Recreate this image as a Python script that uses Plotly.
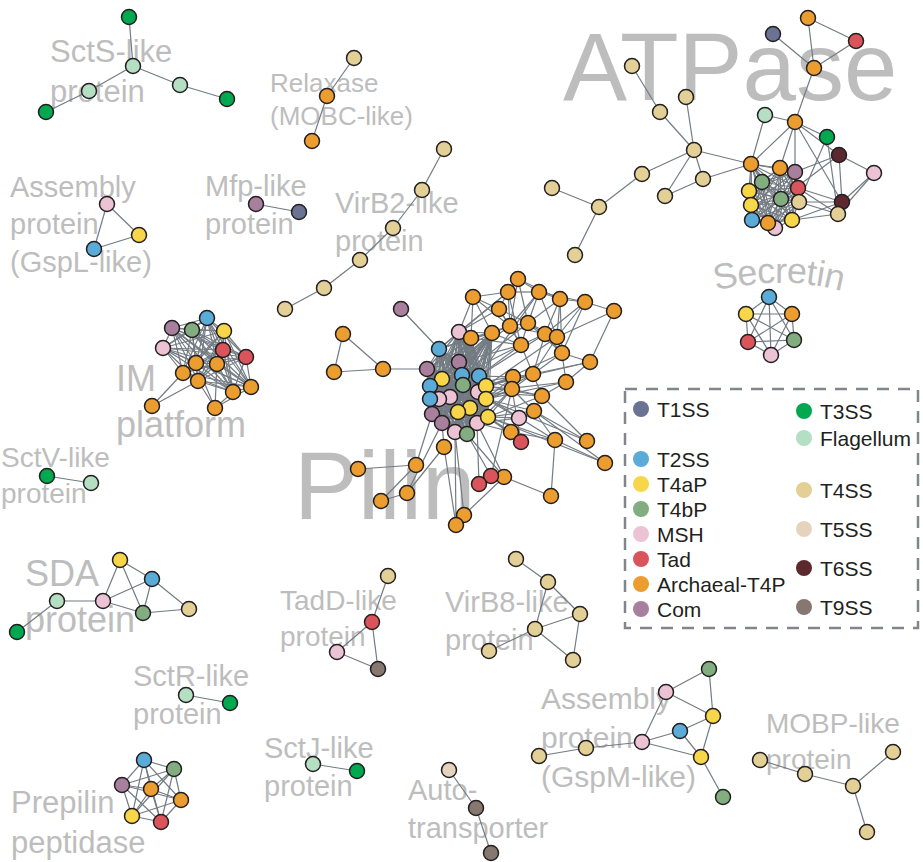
import itertools
import math
import plotly.graph_objects as go

# ---------------- legend / type definitions ----------------
type_codes = ["T1", "T2", "4a", "4b", "MS", "Td", "AR", "Cm", "T3", "Fl", "T4", "T5", "T6", "T9"]
type_labels = ["T1SS", "T2SS", "T4aP", "T4bP", "MSH", "Tad", "Archaeal-T4P", "Com",
               "T3SS", "Flagellum", "T4SS", "T5SS", "T6SS", "T9SS"]
type_colors = ["#6b7394", "#5aabd8", "#f8d64a", "#82ad80", "#ebc3d5", "#d9545b", "#eb9d2f", "#a87f9c",
               "#00a84f", "#b5dfc2", "#e3d096", "#e6d3bd", "#5c2a2e", "#867870"]
COLOR = dict(zip(type_codes, type_colors))

legend_col1 = ["T1", "T2", "4a", "4b", "MS", "Td", "AR", "Cm"]
legend_col1_y = [409, 459, 484, 509, 534, 559, 584, 609]
legend_col2 = ["T3", "Fl", "T4", "T5", "T6", "T9"]
legend_col2_y = [411, 438, 490, 529, 568, 607]

# ---------------- network data (layout coordinates) ----------------
scts_nodes = [("s1", 129, 17, "T3"), ("s2", 133, 66, "Fl"), ("s3", 89, 91, "Fl"), ("s4", 46, 112, "T3"),
              ("s5", 180, 85, "Fl"), ("s6", 227, 99, "T3")]
scts_edges = [("s1", "s2"), ("s2", "s3"), ("s3", "s4"), ("s2", "s5"), ("s5", "s6")]

relax_nodes = [("rx1", 354, 58, "T4"), ("rx2", 327, 96, "AR"), ("rx3", 312, 141, "AR")]
relax_edges = [("rx1", "rx2"), ("rx2", "rx3")]

gspl_nodes = [("gl1", 107, 204, "MS"), ("gl2", 139, 235, "4a"), ("gl3", 94, 249, "T2")]
gspl_edges = [("gl1", "gl2"), ("gl2", "gl3"), ("gl1", "gl3")]

mfp_nodes = [("mf1", 256, 204, "Cm"), ("mf2", 299, 212, "T1")]
mfp_edges = [("mf1", "mf2")]

virb2_nodes = [("v1", 444, 149, "T4"), ("v2", 422, 190, "T4"), ("v3", 393, 228, "T4"),
               ("v4", 360, 260, "T4"), ("v5", 324, 288, "T4"), ("v6", 285, 309, "T4")]
virb2_edges = [("v1", "v2"), ("v2", "v3"), ("v3", "v4"), ("v4", "v5"), ("v5", "v6")]

atp_nodes = [("a1", 632, 66, "T4"), ("a2", 660, 112, "T4"), ("a3", 686, 97, "T4"), ("a4", 694, 150, "T4"),
             ("a5", 703, 179, "T4"), ("a6", 665, 196, "T4"), ("a7", 642, 174, "T4"), ("a8", 599, 207, "T4"),
             ("a9", 552, 188, "T4"), ("a10", 575, 255, "T4"),
             ("a11", 808, 18, "AR"), ("a12", 773, 34, "T1"), ("a13", 856, 41, "Td"), ("a14", 814, 68, "AR"),
             ("a15", 795, 122, "AR"), ("a16", 765, 115, "Fl"), ("a17", 827, 137, "T3"), ("a18", 839, 155, "T6"),
             ("a19", 874, 173, "MS"), ("a20", 842, 202, "T6"), ("a21", 838, 214, "T4"),
             ("c1", 751, 164, "AR"), ("c2", 780, 168, "AR"), ("c3", 795, 172, "Cm"), ("c4", 762, 182, "4b"),
             ("c5", 749, 191, "4a"), ("c6", 798, 188, "Td"), ("c7", 781, 199, "4b"), ("c8", 799, 202, "T4"),
             ("c9", 751, 205, "4a"), ("c12", 775, 228, "MS"), ("c10", 752, 220, "T2"), ("c11", 768, 223, "AR"),
             ("c13", 792, 220, "4a")]
atp_edges = [("a1", "a2"), ("a2", "a4"), ("a3", "a4"), ("a4", "a5"), ("a4", "a6"), ("a5", "a6"), ("a4", "a7"),
             ("a7", "a8"), ("a8", "a9"), ("a8", "a10"), ("a4", "c1"), ("a5", "c1"),
             ("a11", "a14"), ("a12", "a14"), ("a13", "a14"), ("a11", "a13"), ("a14", "a15"),
             ("a16", "c1"), ("a16", "a15"), ("a15", "c1"), ("a15", "c2"), ("a15", "c3"), ("a15", "a17"),
             ("a15", "a18"), ("a15", "a20"), ("a17", "c8"), ("a17", "a21"), ("a18", "a19"), ("a18", "a20"),
             ("a18", "c3"), ("a18", "c7"), ("a19", "a20"), ("a19", "a21"), ("a20", "a21"), ("a20", "c8"),
             ("a20", "c13"), ("a21", "c8"), ("a21", "c13"), ("a20", "c6"), ("a21", "c6")]
atp_clique = ["c1", "c2", "c3", "c4", "c5", "c6", "c7", "c8", "c9", "c10", "c11", "c12", "c13"]

sec_nodes = [("se1", 769, 297, "T2"), ("se2", 746, 314, "4a"), ("se3", 792, 314, "AR"),
             ("se4", 748, 342, "Td"), ("se5", 771, 355, "MS"), ("se6", 794, 340, "4b")]
sec_clique = ["se1", "se2", "se3", "se4", "se5", "se6"]

im_nodes = [("im1", 207, 318, "T2"), ("im2", 172, 328, "Cm"), ("im3", 192, 330, "4b"), ("im4", 224, 331, "4a"),
            ("im5", 163, 348, "MS"), ("im6", 223, 350, "Td"), ("im7", 246, 357, "Td"), ("im8", 196, 363, "AR"),
            ("im9", 217, 364, "AR"), ("im10", 183, 373, "AR"), ("im11", 198, 381, "AR"), ("im12", 251, 387, "AR"),
            ("im13", 233, 392, "AR"), ("im14", 152, 406, "AR"), ("im15", 215, 408, "AR")]
im_edges = [("im14", "im10"), ("im14", "im11"), ("im15", "im11"), ("im15", "im13"), ("im15", "im12"),
            ("im15", "im9"), ("im15", "im8")]
im_clique = ["im1", "im2", "im3", "im4", "im5", "im6", "im7", "im8", "im9", "im10", "im11", "im12", "im13"]

sctv_nodes = [("sv1", 47, 476, "T3"), ("sv2", 91, 483, "Fl")]
sctv_edges = [("sv1", "sv2")]

sda_nodes = [("sd1", 120, 560, "4a"), ("sd2", 152, 579, "T2"), ("sd3", 57, 601, "Fl"), ("sd4", 103, 601, "MS"),
             ("sd5", 143, 613, "4b"), ("sd6", 189, 609, "T4"), ("sd7", 17, 632, "T3")]
sda_edges = [("sd7", "sd3"), ("sd3", "sd4"), ("sd4", "sd1"), ("sd4", "sd2"), ("sd4", "sd5"), ("sd1", "sd2"),
             ("sd1", "sd5"), ("sd2", "sd5"), ("sd2", "sd6"), ("sd5", "sd6")]

sctr_nodes = [("sr1", 186, 695, "Fl"), ("sr2", 230, 703, "T3")]
sctr_edges = [("sr1", "sr2")]

prep_nodes = [("pp1", 144, 760, "T2"), ("pp2", 174, 769, "4b"), ("pp3", 122, 785, "Cm"), ("pp4", 151, 789, "AR"),
              ("pp5", 181, 800, "AR"), ("pp6", 132, 816, "4a"), ("pp7", 161, 822, "Td")]
prep_clique = ["pp1", "pp2", "pp3", "pp4", "pp5", "pp6", "pp7"]

tadd_nodes = [("td1", 388, 576, "T4"), ("td2", 372, 622, "Td"), ("td3", 337, 652, "MS"), ("td4", 378, 669, "T9")]
tadd_edges = [("td1", "td2"), ("td2", "td3"), ("td2", "td4"), ("td3", "td4")]

virb8_nodes = [("vb1", 516, 559, "T4"), ("vb2", 548, 582, "T4"), ("vb3", 580, 614, "T4"),
               ("vb4", 535, 629, "T4"), ("vb5", 489, 651, "T4"), ("vb6", 573, 660, "T4")]
virb8_edges = [("vb1", "vb2"), ("vb2", "vb3"), ("vb2", "vb4"), ("vb3", "vb4"), ("vb4", "vb5"),
               ("vb4", "vb6"), ("vb3", "vb6")]

sctj_nodes = [("sj1", 313, 764, "Fl"), ("sj2", 357, 771, "T3")]
sctj_edges = [("sj1", "sj2")]

auto_nodes = [("at1", 449, 770, "T5"), ("at2", 476, 808, "T9"), ("at3", 491, 853, "T9")]
auto_edges = [("at1", "at2"), ("at2", "at3")]

gspm_nodes = [("gm1", 709, 669, "4b"), ("gm2", 666, 692, "MS"), ("gm3", 713, 716, "4a"), ("gm4", 680, 731, "T2"),
              ("gm5", 642, 742, "MS"), ("gm6", 701, 757, "4a"), ("gm7", 586, 748, "T4"), ("gm8", 539, 756, "T4"),
              ("gm9", 723, 797, "4b")]
gspm_edges = [("gm1", "gm2"), ("gm1", "gm3"), ("gm2", "gm3"), ("gm2", "gm5"), ("gm3", "gm4"), ("gm4", "gm5"),
              ("gm4", "gm6"), ("gm5", "gm6"), ("gm3", "gm6"), ("gm5", "gm7"), ("gm7", "gm8"), ("gm6", "gm9")]

mobp_nodes = [("mb1", 760, 760, "T4"), ("mb2", 805, 774, "T4"), ("mb3", 853, 786, "T4"),
              ("mb4", 893, 752, "T4"), ("mb5", 867, 832, "T4")]
mobp_edges = [("mb1", "mb2"), ("mb2", "mb3"), ("mb3", "mb4"), ("mb3", "mb5")]

pilin_nodes = [
    ("o1", 518, 279, "AR"), ("o2", 508, 292, "AR"), ("o3", 539, 292, "AR"), ("o4", 473, 297, "AR"),
    ("o5", 560, 299, "AR"), ("o6", 585, 302, "AR"), ("o7", 614, 311, "AR"), ("o8", 499, 309, "AR"),
    ("o9", 510, 326, "AR"), ("o10", 528, 323, "AR"), ("o13", 545, 334, "AR"), ("o14", 557, 337, "AR"),
    ("o15", 521, 345, "AR"), ("o16", 562, 353, "AR"), ("o17", 590, 362, "AR"), ("o18", 533, 374, "AR"),
    ("o20", 566, 382, "AR"), ("o22", 542, 396, "AR"), ("o23", 534, 411, "AR"), ("o25", 555, 440, "AR"),
    ("o26", 587, 441, "AR"), ("o27", 605, 463, "AR"), ("o29", 551, 496, "AR"),
    ("o30", 444, 447, "AR"), ("o31", 416, 465, "AR"), ("o32", 358, 469, "AR"), ("o33", 407, 493, "AR"),
    ("o34", 381, 501, "AR"), ("o35", 464, 515, "AR"), ("o36", 456, 525, "AR"),
    ("t1", 343, 334, "AR"), ("t2", 334, 372, "AR"), ("t3", 383, 369, "AR"), ("p0", 401, 309, "Cm"),
    ("k1", 459, 332, "MS"), ("o12", 471, 338, "AR"), ("o11", 492, 333, "AR"),
    ("o19", 513, 377, "AR"), ("o21", 512, 389, "AR"), ("mf", 519, 418, "MS"), ("o24", 511, 432, "AR"),
    ("r1", 521, 442, "Td"), ("o28", 504, 477, "AR"), ("r2", 491, 476, "Td"), ("r3", 479, 484, "Td"),
    ("k4", 439, 349, "T2"), ("k5", 459, 362, "Cm"), ("k6", 427, 369, "Cm"), ("k7", 462, 375, "T2"),
    ("k8", 479, 376, "T2"), ("k13", 478, 392, "MS"), ("k14", 450, 397, "MS"), ("k15", 439, 399, "MS"),
    ("k9", 442, 379, "4a"), ("k10", 430, 386, "T2"), ("k17", 430, 399, "T2"), ("k11", 463, 385, "4b"),
    ("k12", 486, 386, "4a"), ("k16", 486, 399, "4a"), ("k21", 432, 414, "Cm"), ("k22", 442, 423, "Cm"),
    ("k23", 477, 423, "MS"), ("k19", 470, 408, "4a"), ("k18", 458, 412, "4a"), ("k20", 488, 417, "4a"),
    ("k24", 455, 432, "MS"), ("k25", 467, 434, "4b"),
]
pilin_edges = [
    ("o1", "o2"), ("o1", "o3"), ("o1", "o5"), ("o2", "o3"), ("o2", "o4"), ("o2", "o8"), ("o2", "o9"),
    ("o3", "o5"), ("o3", "o10"), ("o3", "o9"), ("o4", "o8"), ("o4", "o12"), ("o4", "o11"), ("o5", "o6"),
    ("o5", "o13"), ("o5", "o14"), ("o6", "o7"), ("o6", "o13"), ("o6", "o14"), ("o7", "o17"), ("o8", "o9"),
    ("o8", "o10"), ("o9", "o10"), ("o9", "o13"), ("o9", "o15"), ("o10", "o13"), ("o10", "o14"),
    ("o10", "o16"), ("o11", "o15"), ("o12", "o15"), ("o13", "o14"), ("o13", "o16"), ("o14", "o16"),
    ("o15", "o18"), ("o15", "o13"), ("o16", "o18"), ("o16", "o20"), ("o17", "o20"), ("o17", "o18"),
    ("o18", "o19"), ("o18", "o21"), ("o19", "o21"), ("o18", "o22"), ("o20", "o22"), ("o21", "o22"),
    ("o22", "o23"), ("o21", "o23"), ("o3", "o14"), ("o1", "o10"), ("o5", "o16"), ("o6", "o16"),
    ("o8", "o15"), ("o2", "o15"), ("o11", "o9"), ("o12", "o9"), ("o4", "o9"), ("o3", "o6"), ("o14", "o18"),
    ("o13", "o18"), ("o17", "o16"), ("o7", "o14"), ("o10", "o15"), ("o1", "o9"), ("o5", "o10"),
    ("o23", "o26"), ("o25", "o27"), ("o25", "o29"), ("o25", "o23"), ("o24", "o25"), ("o24", "r1"),
    ("o23", "o27"), ("o22", "o26"), ("r2", "r3"), ("r2", "o28"), ("r3", "o28"), ("o28", "o29"),
    ("o35", "o28"), ("o35", "o36"), ("o32", "o31"), ("o31", "o34"), ("o34", "o33"), ("o33", "o30"),
    ("o30", "o36"), ("r1", "o21"), ("r2", "o21"), ("p0", "k4"), ("t1", "t2"), ("t1", "t3"), ("t2", "t3"),
    ("t3", "k6"), ("mf", "o24"), ("mf", "o23"),
    ("k8", "o19"), ("k8", "o21"), ("k8", "o15"), ("k12", "o19"), ("k12", "o21"), ("k12", "o18"),
    ("k12", "o22"), ("k16", "o21"), ("k16", "o23"), ("k16", "o18"), ("k20", "o23"), ("k20", "o24"),
    ("k20", "o22"), ("k13", "o20"), ("k13", "o16"), ("k8", "o13"), ("k7", "o10"), ("k5", "o9"),
    ("k1", "o4"), ("k1", "o8"), ("k4", "o12"), ("k4", "o2"), ("k1", "o2"), ("k5", "o11"), ("k7", "o11"),
    ("k8", "o11"), ("k8", "o12"), ("k12", "o11"), ("k13", "o25"), ("k20", "o25"), ("k23", "o24"),
    ("k23", "o28"), ("k25", "o28"), ("k24", "o35"), ("k22", "o30"), ("k21", "o31"), ("k23", "mf"),
    ("k20", "mf"), ("k16", "mf"), ("k19", "o24"), ("k16", "o26"), ("k12", "o17"), ("k12", "o14"),
    ("k8", "o3"), ("k16", "o20"), ("k20", "o27"), ("k25", "r2"), ("k23", "r3"), ("k20", "r1"),
    ("k13", "o19"), ("k16", "o19"), ("k19", "o21"), ("k20", "o21"), ("k13", "o22"), ("k23", "o21"),
    ("k11", "o19"), ("k7", "o15"), ("k5", "o15"), ("k24", "o36"), ("k22", "o33"),
]
pilin_clique = ["k1", "k4", "k5", "k6", "k7", "k8", "k9", "k10", "k11", "k12", "k13", "k14", "k15", "k16",
                "k17", "k18", "k19", "k20", "k21", "k22", "k23", "k24", "k25", "o12", "o11"]

all_clusters = [scts_nodes, relax_nodes, gspl_nodes, mfp_nodes, virb2_nodes, atp_nodes, sec_nodes, im_nodes,
                sctv_nodes, sda_nodes, sctr_nodes, prep_nodes, tadd_nodes, virb8_nodes, sctj_nodes,
                auto_nodes, gspm_nodes, mobp_nodes, pilin_nodes]
all_edges = [scts_edges, relax_edges, gspl_edges, mfp_edges, virb2_edges, atp_edges, im_edges, sctv_edges,
             sda_edges, sctr_edges, tadd_edges, virb8_edges, sctj_edges, auto_edges, gspm_edges, mobp_edges,
             pilin_edges]
all_cliques = [atp_clique, sec_clique, im_clique, prep_clique, pilin_clique]

# ---------------- cluster labels ----------------
label_texts = ["SctS-like<br>protein", "Relaxase<br>(MOBC-like)", "Assembly<br>protein<br>(GspL-like)",
               "Mfp-like<br>protein", "VirB2-like<br>protein", "IM<br>platform", "SctV-like<br>protein",
               "SDA<br>protein", "SctR-like<br>protein", "Prepilin<br>peptidase", "TadD-like<br>protein",
               "VirB8-like<br>protein", "SctJ-like<br>protein", "Auto-<br>transporter",
               "Assembly<br>protein<br>(GspM-like)", "MOBP-like<br>protein", "ATPase", "Pilin"]
label_x = [50, 270, 10, 205, 335, 116, 1, 25, 133, 11, 280, 445, 264, 408, 541, 766, 563, 294]
label_y = [74, 102, 227, 208, 225, 405, 478, 600, 698, 825, 621, 624, 770, 812, 740, 744, 76, 495]
label_size = [31, 26, 29, 29, 29, 36, 28, 36, 29, 31, 28, 29, 29, 29, 30, 28, 96, 96]
secretin_text = "Secretin"

FONT = "Liberation Sans, Arial, Helvetica, sans-serif"
LABEL_GRAY = "#bdbdbd"

# ---------------- build figure ----------------
pos = {}
order = []
for cl in all_clusters:
    for nid, x, y, t in cl:
        pos[nid] = (x, y, t)
        order.append(nid)

edges = []
for el in all_edges:
    edges.extend(el)
for cq in all_cliques:
    edges.extend(itertools.combinations(cq, 2))

ex, ey = [], []
for a, b in edges:
    ex += [pos[a][0], pos[b][0], None]
    ey += [pos[a][1], pos[b][1], None]

fig = go.Figure()

# labels (behind everything)
for txt, x, y, s in zip(label_texts, label_x, label_y, label_size):
    fig.add_trace(go.Scatter(x=[x], y=[y], mode="text", text=[txt], textposition="middle right",
                             textfont=dict(family=FONT, size=s, color=LABEL_GRAY), cliponaxis=False,
                             hoverinfo="skip", showlegend=False))

fig.add_trace(go.Scatter(x=ex, y=ey, mode="lines", line=dict(color="#737b83", width=1.2),
                         hoverinfo="skip", showlegend=False))

fig.add_trace(go.Scatter(
    x=[pos[n][0] for n in order], y=[pos[n][1] for n in order], mode="markers",
    marker=dict(size=15, color=[COLOR[pos[n][2]] for n in order],
                line=dict(color="#231f20", width=1.5)),
    cliponaxis=False, hoverinfo="skip", showlegend=False))

# legend (manual, two columns)
lx1, lx2 = 641, 804
fig.add_trace(go.Scatter(
    x=[lx1] * len(legend_col1) + [lx2] * len(legend_col2),
    y=legend_col1_y + legend_col2_y, mode="markers",
    marker=dict(size=16, color=[COLOR[c] for c in legend_col1 + legend_col2], line=dict(width=0)),
    hoverinfo="skip", showlegend=False))
label_of = dict(zip(type_codes, type_labels))
annotations = []
for codes, ys, lx in [(legend_col1, legend_col1_y, lx1), (legend_col2, legend_col2_y, lx2)]:
    for c, y in zip(codes, ys):
        annotations.append(dict(x=lx + 14, y=y, text=label_of[c], showarrow=False, xanchor="left",
                                yanchor="middle", font=dict(family=FONT, size=21, color="#231f20")))

# Secretin arc text
fs = 36
widths = {"S": .667, "e": .556, "c": .5, "r": .333, "t": .278, "i": .222, "n": .556}
R, cx, cy = 250, 779, 520
total = sum(widths[ch] for ch in secretin_text) * fs
s = -total / 2
for ch in secretin_text:
    w = widths[ch] * fs
    th = (s + w / 2) / R
    s += w
    annotations.append(dict(x=cx + R * math.sin(th), y=cy - R * math.cos(th), text=ch, showarrow=False,
                            textangle=math.degrees(th), xanchor="center", yanchor="middle",
                            font=dict(family=FONT, size=fs, color=LABEL_GRAY)))

fig.update_layout(
    width=923, height=862, margin=dict(l=0, r=0, t=0, b=0),
    paper_bgcolor="white", plot_bgcolor="white",
    xaxis=dict(range=[0, 923], visible=False, fixedrange=True),
    yaxis=dict(range=[862, 0], visible=False, fixedrange=True),
    annotations=annotations, hovermode=False,
    shapes=[dict(type="rect", x0=625, x1=918, y0=389, y1=628, xref="x", yref="y",
                 line=dict(color="#80868b", width=2.5, dash="12px,9px"), fillcolor="rgba(0,0,0,0)")],
)

fig.write_html("out.html", config={"displayModeBar": False},
               post_script="document.body.style.margin='0px';")
